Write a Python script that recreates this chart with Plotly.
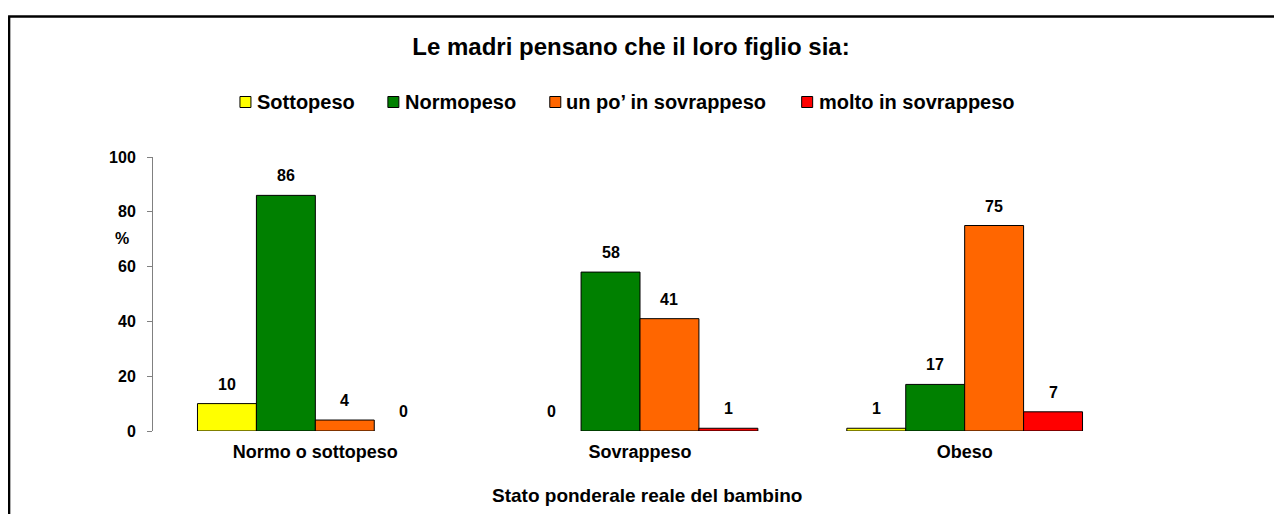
import plotly.graph_objects as go

# data
categories = ["Normo o sottopeso", "Sovrappeso", "Obeso"]
series_names = ["Sottopeso", "Normopeso", "un po\u2019 in sovrappeso", "molto in sovrappeso"]
sottopeso = [10, 0, 1]
normopeso = [86, 58, 17]
un_po_sovrappeso = [4, 41, 75]
molto_sovrappeso = [0, 1, 7]
colors = ["#FFFF00", "#008000", "#FF6600", "#FF0000"]

FONT = "Liberation Sans, Arial, sans-serif"
OFF = 8  # page body margin
W, H = 1282 - OFF, 514 - OFF
ML, MT = 153 - OFF, 157 - OFF
MB = H - (431 - OFF)
MR = W - (1127.5 - OFF)
PW = W - ML - MR
PH = H - MT - MB


def px_x(p):
    # page pixel -> paper x
    return (p - OFF - ML) / PW


def px_y(p):
    # page pixel -> paper y
    return (H - MB - (p - OFF)) / PH


fig = go.Figure()
values = [sottopeso, normopeso, un_po_sovrappeso, molto_sovrappeso]
for name, vals, col in zip(series_names, values, colors):
    fig.add_trace(go.Bar(
        x=categories, y=vals, name=name,
        marker=dict(color=col,
                    line=dict(color="black", width=[1 if v else 0 for v in vals])),
        hoverinfo="skip", showlegend=False,
    ))

# value labels above bars
bar_px = PW / len(categories) * (1 - 0.274) / len(series_names)
for i, vals in enumerate(values):
    for cat, v in zip(categories, vals):
        fig.add_annotation(
            x=cat, y=v, xref="x", yref="y", text="<b>%d</b>" % v,
            showarrow=False, yanchor="bottom", yshift=9,
            xshift=(i - 1.5) * bar_px,
            font=dict(family=FONT, size=16, color="black"),
        )

# legend, drawn by hand to follow the reference spacing
legend_sq = [240, 388, 550, 802]
legend_tx = [255, 403, 564, 817]
for name, col, sx, tx in zip(series_names, colors, legend_sq, legend_tx):
    fig.add_shape(type="rect", xref="paper", yref="paper",
                  x0=px_x(sx), x1=px_x(sx + 11), y0=px_y(107.5), y1=px_y(96.5),
                  fillcolor=col, line=dict(color="black", width=1))
    fig.add_annotation(x=px_x(tx), y=px_y(102), xref="paper", yref="paper",
                       text="<b>%s</b>" % name, showarrow=False,
                       xanchor="left", yanchor="middle",
                       font=dict(family=FONT, size=20, color="black"))

# "%" label next to y axis
fig.add_annotation(x=px_x(122), y=px_y(238), xref="paper", yref="paper",
                   text="<b>%</b>", showarrow=False,
                   xanchor="center", yanchor="middle",
                   font=dict(family=FONT, size=16, color="black"))

# x axis title
fig.add_annotation(x=px_x(647), y=px_y(495), xref="paper", yref="paper",
                   text="<b>Stato ponderale reale del bambino</b>", showarrow=False,
                   xanchor="center", yanchor="middle",
                   font=dict(family=FONT, size=19, color="black"))

# outer frame (left and top edges visible)
fig.add_shape(type="line", xref="paper", yref="paper",
              x0=px_x(9), x1=px_x(9), y0=px_y(530), y1=px_y(16.5),
              line=dict(color="black", width=2.5))
fig.add_shape(type="line", xref="paper", yref="paper",
              x0=px_x(8), x1=px_x(1300), y0=px_y(16.5), y1=px_y(16.5),
              line=dict(color="black", width=2.5))

fig.update_layout(
    width=W, height=H,
    margin=dict(l=ML, r=MR, t=MT, b=MB),
    paper_bgcolor="white", plot_bgcolor="white",
    barmode="group", bargap=0.274, bargroupgap=0,
    font=dict(family=FONT, color="black"),
    title=dict(text="<b>Le madri pensano che il loro figlio sia:</b>",
               x=(631 - OFF) / W, xanchor="center", y=1 - (47 - OFF) / H,
               yanchor="middle",
               font=dict(family=FONT, size=24, color="black")),
    showlegend=False,
)

fig.update_xaxes(showline=False, ticks="", showgrid=False, zeroline=False,
                 tickfont=dict(family=FONT, size=18, color="black"),
                 tickprefix="<b>", ticksuffix="</b>", ticklabelstandoff=8)
fig.update_yaxes(range=[0, 100], dtick=20, showline=True, linecolor="#808080",
                 linewidth=1, ticks="outside", ticklen=5, tickcolor="#808080",
                 showgrid=False, zeroline=False, ticklabelstandoff=8,
                 tickfont=dict(family=FONT, size=16, color="black"),
                 tickprefix="<b>", ticksuffix="</b>")

fig.write_html("out.html")
